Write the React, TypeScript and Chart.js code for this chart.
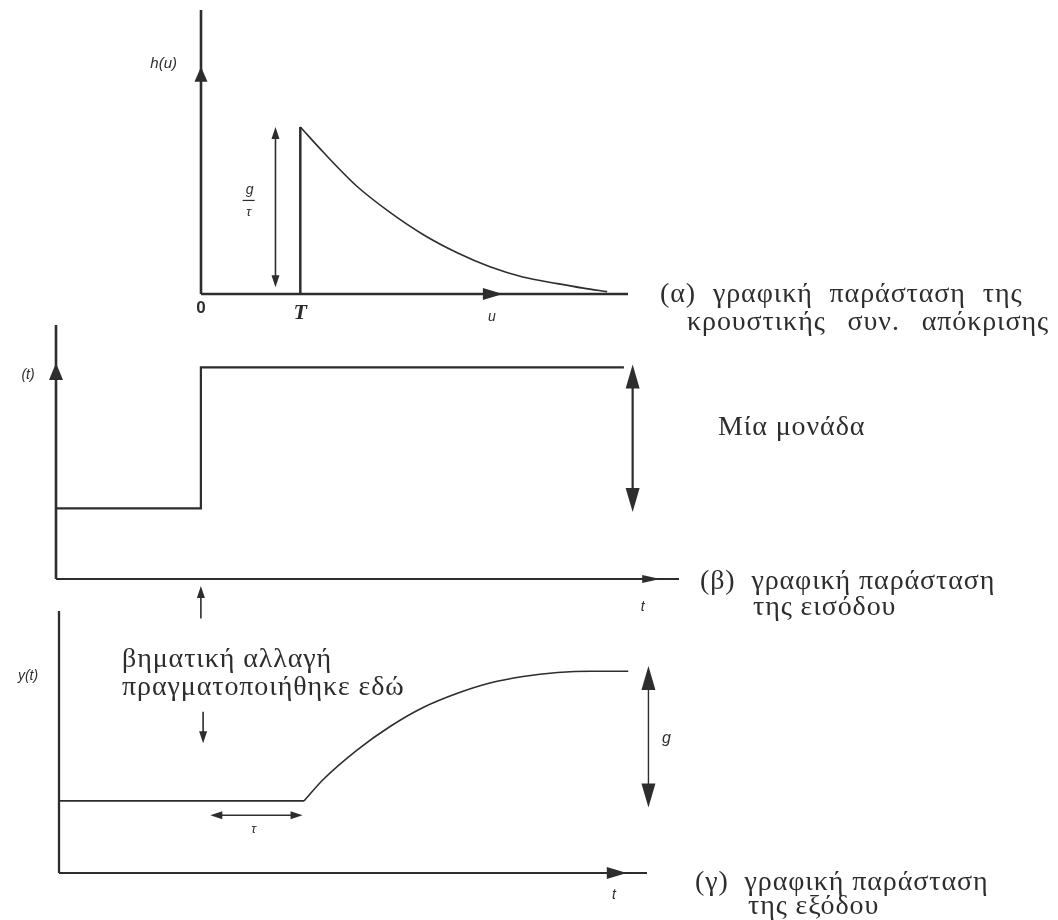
import React, { useEffect, useRef } from 'react';
import { Chart, registerables } from 'chart.js';

Chart.register(...registerables);

const INK = '#2d2d2d';
const SERIF = '"Liberation Serif", "DejaVu Serif", serif';
const SANS = '"Liberation Sans", "DejaVu Sans", sans-serif';
const PAGE_W = 1058;
const TEXT_FONT = `28px ${SERIF}`;

// ---------- (α) impulse response h(u) ----------
const deadTimeT = 1; // T
const impulsePeak = 1; // g/τ
const impulseU = [1.0, 1.23, 1.57, 1.9, 2.24, 2.58, 2.91, 3.24, 3.59, 3.85, 4.09];
const impulseH = [1.0, 0.85, 0.645, 0.49, 0.355, 0.247, 0.163, 0.102, 0.062, 0.035, 0.014];
const uAxisMax = 4.3;
const hAxisMax = 1.7;

// ---------- (β) step input ----------
const stepTime = 1;
const inputT = [0, stepTime, stepTime, 3.92];
const inputU = [0.5, 0.5, 1.5, 1.5];
const inputLow = 0.5;
const inputHigh = 1.5;
const tAxisMaxB = 4.3;
const uAxisMaxB = 1.8;

// ---------- (γ) output y(t) ----------
const deadTimeTau = 0.7;
const outputFlatT = [0, stepTime + deadTimeTau];
const outputFlatY = [0.55, 0.55];
const outputCurveT = [1.7, 1.83, 2.07, 2.3, 2.53, 2.76, 2.99, 3.22, 3.46, 3.69, 3.95];
const outputCurveY = [0.55, 0.71, 0.94, 1.12, 1.265, 1.37, 1.45, 1.5, 1.53, 1.54, 1.54];
const tAxisMaxC = 4.08;
const yAxisMaxC = 2.0;

const captionA = ['(α) γραφική παράσταση της', 'κρουστικής συν. απόκρισης'];
const captionB = ['(β)  γραφική παράσταση', 'της εισόδου'];
const captionC = ['(γ)  γραφική παράσταση', 'της εξόδου'];
const unitLabel = 'Μία μονάδα';
const stepNote = ['βηματική αλλαγή', 'πραγματοποιήθηκε εδώ'];

const pts = (xs: number[], ys: number[]) => xs.map((x, i) => ({ x, y: ys[i] }));

function seg(ctx: CanvasRenderingContext2D, x1: number, y1: number, x2: number, y2: number, w: number) {
  ctx.save();
  ctx.beginPath();
  ctx.moveTo(x1, y1);
  ctx.lineTo(x2, y2);
  ctx.lineWidth = w;
  ctx.strokeStyle = INK;
  ctx.lineCap = 'butt';
  ctx.stroke();
  ctx.restore();
}

function head(ctx: CanvasRenderingContext2D, tx: number, ty: number, dx: number, dy: number, len: number, hw: number) {
  const n = Math.hypot(dx, dy);
  const ux = dx / n;
  const uy = dy / n;
  const bx = tx - ux * len;
  const by = ty - uy * len;
  ctx.save();
  ctx.beginPath();
  ctx.moveTo(tx, ty);
  ctx.lineTo(bx - uy * hw, by + ux * hw);
  ctx.lineTo(bx + uy * hw, by - ux * hw);
  ctx.closePath();
  ctx.fillStyle = INK;
  ctx.fill();
  ctx.restore();
}

function label(
  ctx: CanvasRenderingContext2D,
  s: string,
  x: number,
  y: number,
  font: string,
  align: CanvasTextAlign = 'left',
  spacing = 0,
  wordGap = 0
) {
  ctx.save();
  ctx.font = font;
  (ctx as any).letterSpacing = `${spacing}px`;
  (ctx as any).wordSpacing = `${wordGap}px`;
  ctx.fillStyle = INK;
  ctx.textAlign = align;
  ctx.textBaseline = 'middle';
  ctx.fillText(s, x, y);
  ctx.restore();
}

// body text of the figure (captions and notes)
const prose = (ctx: CanvasRenderingContext2D, s: string, x: number, y: number, wordGap = 0) =>
  label(ctx, s, x, y, TEXT_FONT, 'left', 0.9, wordGap);

function lineSet(data: { x: number; y: number }[], width: number, smooth: boolean) {
  return {
    data,
    showLine: true,
    pointRadius: 0,
    borderColor: INK,
    borderWidth: width,
    fill: false,
    clip: false as any,
    tension: 0,
    cubicInterpolationMode: smooth ? ('monotone' as const) : ('default' as const),
  };
}

function makeConfig(
  datasets: any[],
  padding: { left: number; right: number; top: number; bottom: number },
  xMax: number,
  yMax: number,
  draw: (chart: Chart, X: (v: number) => number, Y: (v: number) => number) => void
): any {
  return {
    type: 'scatter',
    data: { datasets },
    options: {
      responsive: false,
      animation: false,
      events: [],
      layout: { padding },
      plugins: { legend: { display: false }, tooltip: { enabled: false } },
      scales: {
        x: { type: 'linear', min: 0, max: xMax, display: false },
        y: { type: 'linear', min: 0, max: yMax, display: false },
      },
    },
    plugins: [
      {
        id: 'diagramMarks',
        afterDatasetsDraw(chart: Chart) {
          const xs = chart.scales.x;
          const ys = chart.scales.y;
          draw(
            chart,
            (v) => xs.getPixelForValue(v),
            (v) => ys.getPixelForValue(v)
          );
        },
      },
    ],
  };
}

// (α) h(u)
const configA = () =>
  makeConfig(
    [
      lineSet(pts([deadTimeT, deadTimeT], [0, impulsePeak]), 2.5, false),
      lineSet(pts(impulseU, impulseH), 1.6, true),
    ],
    { left: 201, right: PAGE_W - 628, top: 10, bottom: 51 },
    uAxisMax,
    hAxisMax,
    (chart, X, Y) => {
      const ctx = chart.ctx;
      // axes
      seg(ctx, X(0), Y(0), X(0), Y(hAxisMax), 2.6);
      head(ctx, X(0), Y(1.36), 0, -1, 15, 6.5);
      seg(ctx, X(0), Y(0), X(uAxisMax), Y(0), 2.6);
      head(ctx, X(3.04), Y(0), 1, 0, 20, 6);
      // g/τ height marker
      const ax = X(0.75);
      seg(ctx, ax, Y(0.04) - 8, ax, Y(impulsePeak) + 8, 1.6);
      head(ctx, ax, Y(impulsePeak), 0, -1, 12, 4);
      head(ctx, ax, Y(0.04), 0, 1, 12, 4);
      const fx = X(0.48);
      const fy = Y(0.56);
      label(ctx, 'g', fx + 1, fy - 10, `italic 14px ${SANS}`, 'center');
      seg(ctx, fx - 6, fy, fx + 6, fy, 1.2);
      label(ctx, 'τ', fx, fy + 12, `italic 13px ${SANS}`, 'center');
      // axis labels
      label(ctx, 'h(u)', X(0) - 24, Y(1.38), `italic 15px ${SANS}`, 'right');
      label(ctx, '0', X(0), 308, `bold 17px ${SANS}`, 'center');
      label(ctx, 'T', X(deadTimeT), 313, `italic bold 22px ${SERIF}`, 'center');
      label(ctx, 'u', X(2.93), 317, `italic 14px ${SANS}`, 'center');
      // caption
      prose(ctx, captionA[0], 660, 295, 9);
      prose(ctx, captionA[1], 687, 323, 14);
    }
  );

// (β) input
const configB = () =>
  makeConfig(
    [lineSet(pts(inputT, inputU), 2.2, false)],
    { left: 56, right: PAGE_W - 679, top: 25, bottom: 51 },
    tAxisMaxB,
    uAxisMaxB,
    (chart, X, Y) => {
      const ctx = chart.ctx;
      seg(ctx, X(0), Y(0), X(0), Y(uAxisMaxB), 2.6);
      head(ctx, X(0), Y(1.53), 0, -1, 17, 7);
      seg(ctx, X(0), Y(0), X(tAxisMaxB), Y(0), 2.2);
      head(ctx, X(4.17), Y(0), 1, 0, 18, 4);
      // one unit marker
      const mx = X(3.98);
      seg(ctx, mx, Y(inputHigh) + 10, mx, Y(inputLow) - 10, 2.2);
      head(ctx, mx, Y(inputHigh + 0.02), 0, -1, 24, 7);
      head(ctx, mx, Y(inputLow - 0.025), 0, 1, 24, 7);
      // step instant marker
      const sx = X(stepTime);
      seg(ctx, sx, Y(-0.28), sx, Y(-0.05) + 6, 1.6);
      head(ctx, sx, Y(-0.05), 0, -1, 12, 4);
      label(ctx, '(t)', X(0) - 28, 75, `italic 14px ${SANS}`, 'center');
      label(ctx, 't', X(4.05), 307, `italic 14px ${SANS}`, 'center');
      prose(ctx, unitLabel, 718, 128);
      prose(ctx, captionB[0], 700, 282);
      prose(ctx, captionB[1], 753, 308);
    }
  );

// (γ) output
const configC = () =>
  makeConfig(
    [
      lineSet(pts(outputFlatT, outputFlatY), 1.8, false),
      lineSet(pts(outputCurveT, outputCurveY), 1.6, true),
    ],
    { left: 59, right: PAGE_W - 647, top: 11, bottom: 47 },
    tAxisMaxC,
    yAxisMaxC,
    (chart, X, Y) => {
      const ctx = chart.ctx;
      seg(ctx, X(0), Y(0), X(0), Y(yAxisMaxC), 2.3);
      seg(ctx, X(0), Y(0), X(tAxisMaxC), Y(0), 2.2);
      head(ctx, X(3.94), Y(0), 1, 0, 20, 6);
      // step instant marker
      const sx = X(stepTime);
      seg(ctx, sx, Y(1.23), sx, Y(0.99) - 6, 1.6);
      head(ctx, sx, Y(0.99), 0, 1, 12, 4);
      // dead time τ
      const ty = Y(0.44);
      seg(ctx, X(stepTime + 0.05) + 6, ty, X(stepTime + deadTimeTau - 0.01) - 6, ty, 1.5);
      head(ctx, X(stepTime + 0.05), ty, -1, 0, 12, 4);
      head(ctx, X(stepTime + deadTimeTau - 0.01), ty, 1, 0, 12, 4);
      label(ctx, 'τ', X(1.35), Y(0.33), `italic 13px ${SANS}`, 'center');
      // gain g
      const gx = X(4.09);
      seg(ctx, gx, Y(1.58) + 10, gx, Y(0.5) - 10, 1.4);
      head(ctx, gx, Y(1.58), 0, -1, 24, 7);
      head(ctx, gx, Y(0.5), 0, 1, 24, 7);
      label(ctx, 'g', gx + 18, Y(1.03), `italic 16px ${SANS}`, 'center');
      label(ctx, 'y(t)', X(0) - 31, 76, `italic 14px ${SANS}`, 'center');
      label(ctx, 't', X(3.85), 295, `italic 14px ${SANS}`, 'center');
      prose(ctx, stepNote[0], 122, 60);
      prose(ctx, stepNote[1], 122, 88);
      prose(ctx, captionC[0], 695, 283);
      prose(ctx, captionC[1], 748, 307);
    }
  );

function Panel({ top, height, config }: { top: number; height: number; config: () => any }) {
  const ref = useRef<HTMLCanvasElement>(null);
  useEffect(() => {
    const chart = new Chart(ref.current as HTMLCanvasElement, config());
    return () => chart.destroy();
  }, [config]);
  return (
    <canvas
      ref={ref}
      width={PAGE_W}
      height={height}
      style={{ position: 'absolute', left: 0, top, width: PAGE_W, height }}
    />
  );
}

export default function App() {
  return (
    <div style={{ position: 'absolute', left: 0, top: 0, width: PAGE_W, height: 920, background: '#fff', overflow: 'hidden' }}>
      <Panel top={0} height={345} config={configA} />
      <Panel top={300} height={330} config={configB} />
      <Panel top={600} height={320} config={configC} />
    </div>
  );
}
